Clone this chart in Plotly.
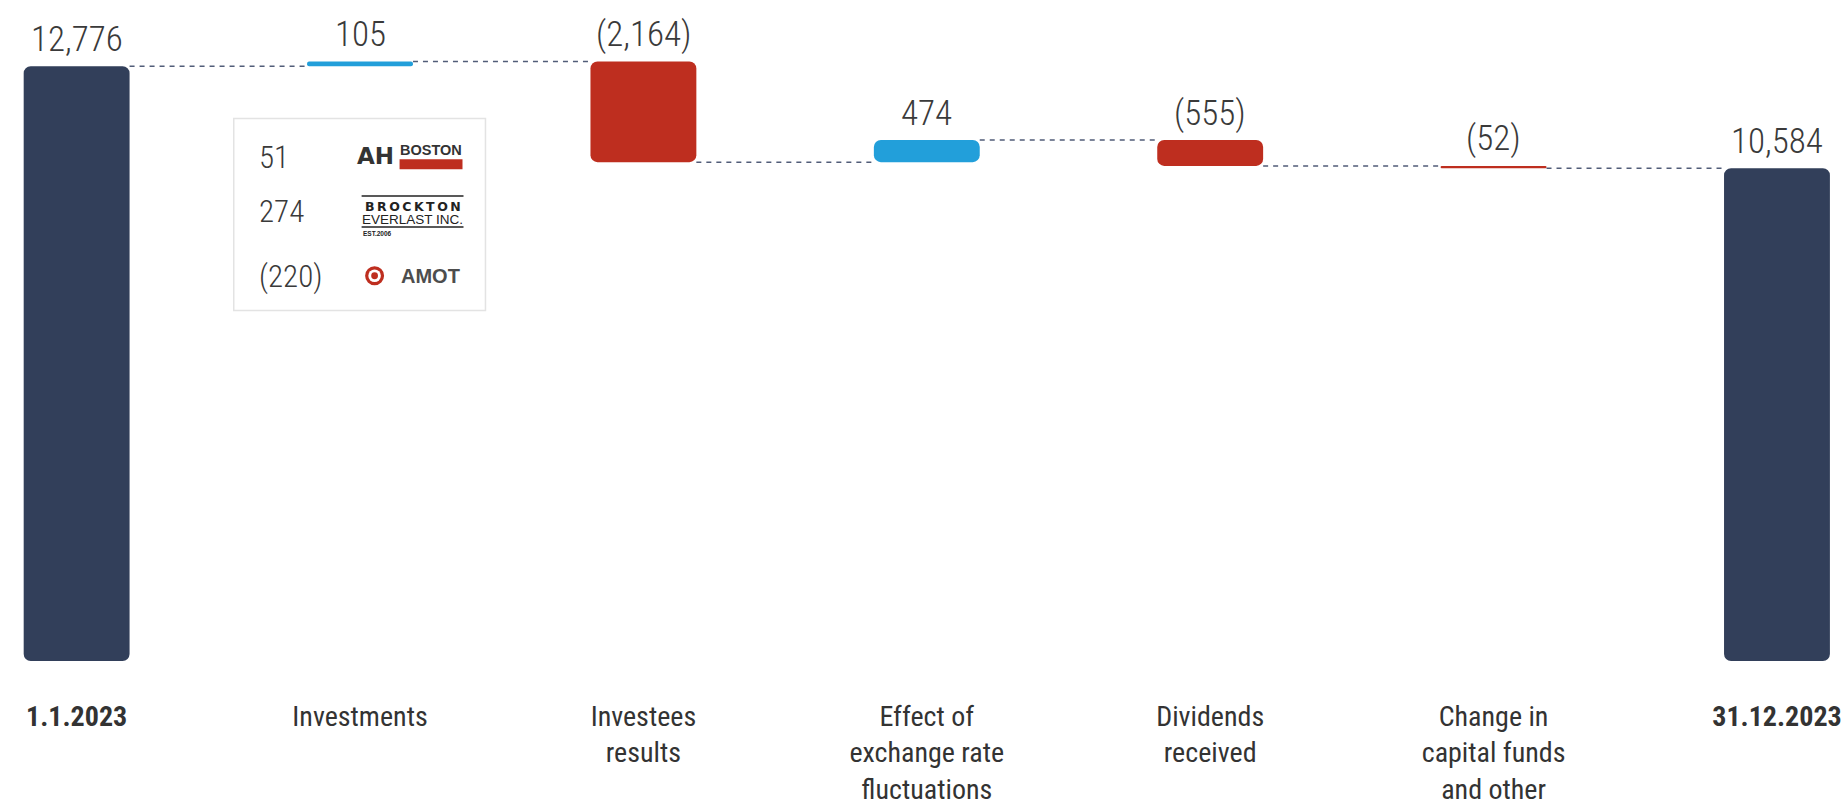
import plotly.graph_objects as go

# ---------------- data ----------------
categories = ["<b>1.1.2023</b>", "Investments", "Investees<br>results",
              "Effect of<br>exchange rate<br>fluctuations", "Dividends<br>received",
              "Change in<br>capital funds<br>and other", "<b>31.12.2023</b>"]
measures = ["total", "relative", "relative", "relative", "relative", "relative", "total"]
values = [12776, 105, -2164, 474, -555, -52, 10584]

inset_values = [51, 274, -220]

# ---------------- style ----------------
NAVY = "#323f5a"
BLUE = "#229fda"
RED = "#be2e1f"
CONN = "#515c78"
TXT = "#333333"
W, H = 1842, 806
MB = 142
PLOT_H = H - MB
Y_MAX = 14200
X_RANGE = [-0.2704, 6.2224]
BAR_W = 0.3736
FONT = "Roboto Condensed, Liberation Sans Narrow, sans-serif"
LOGO_FONT = "Liberation Sans, Arial, sans-serif"


def fmt(v):
    s = f"{abs(v):,}"
    return f"({s})" if v < 0 else s


# compute waterfall geometry from data
lows, highs, colors, levels = [], [], [], []
level = 0
for m, v in zip(measures, values):
    if m == "total":
        lo, hi = 0, v
        level = v
        c = NAVY
    else:
        prev = level
        level = prev + v
        lo, hi = min(prev, level), max(prev, level)
        c = BLUE if v > 0 else RED
    lows.append(lo)
    highs.append(hi)
    colors.append(c)
    levels.append(level)

xs = list(range(len(values)))
heights = [hi - lo for lo, hi in zip(lows, highs)]

fig = go.Figure()
fig.add_trace(go.Bar(x=xs, y=heights, base=lows, width=BAR_W,
                     marker=dict(color=colors, cornerradius=7, line=dict(width=0)),
                     hoverinfo="skip", showlegend=False))

# connectors
cx, cy = [], []
for i in range(len(values) - 1):
    cx += [xs[i] + BAR_W / 2, xs[i + 1] - BAR_W / 2, None]
    cy += [levels[i], levels[i], None]
fig.add_trace(go.Scatter(x=cx, y=cy, mode="lines",
                         line=dict(color=CONN, width=1.5, dash="5px,5px"),
                         hoverinfo="skip", showlegend=False))

# value labels
for x, hi, v in zip(xs, highs, values):
    fig.add_annotation(x=x, y=hi, text=fmt(v), showarrow=False, yanchor="middle",
                       yshift=27, font=dict(family=FONT, size=35, weight=300,
                                            color="#3a3a3a"))


# ---------------- inset box ----------------
def px(x):
    return x / W


def py(y):
    return (PLOT_H - y) / PLOT_H


shapes = []
shapes.append(dict(type="rect", xref="paper", yref="paper", x0=px(234), x1=px(486),
                   y0=py(312), y1=py(119), line=dict(color="#e3e3e3", width=1.5),
                   fillcolor="white", layer="above"))

# numbers
for yy, v in zip([158, 212, 278], inset_values):
    fig.add_annotation(xref="paper", yref="paper", x=px(257), y=py(yy), text=fmt(v),
                       showarrow=False, xanchor="left", yanchor="middle",
                       font=dict(family=FONT, size=31, weight=300, color="#3a3a3a"))

# AH BOSTON logo
fig.add_annotation(xref="paper", yref="paper", x=px(355), y=py(157), text="<b>AH</b>",
                   showarrow=False, xanchor="left", yanchor="middle",
                   font=dict(family="DejaVu Sans, sans-serif", size=23, weight=900,
                             color="#333333"))
fig.add_annotation(xref="paper", yref="paper", x=px(431.5), y=py(151), text="<b>BOSTON</b>",
                   showarrow=False, xanchor="center", yanchor="middle",
                   font=dict(family=LOGO_FONT, size=14.5, color="#333333"))
shapes.append(dict(type="rect", xref="paper", yref="paper", x0=px(400), x1=px(463),
                   y0=py(170), y1=py(160), line=dict(width=0), fillcolor=RED, layer="above"))

# BROCKTON logo
shapes.append(dict(type="line", xref="paper", yref="paper", x0=px(362), x1=px(464),
                   y0=py(197), y1=py(197), line=dict(color="#222222", width=1.5), layer="above"))
shapes.append(dict(type="line", xref="paper", yref="paper", x0=px(362), x1=px(464),
                   y0=py(228), y1=py(228), line=dict(color="#222222", width=1.5), layer="above"))
fig.add_annotation(xref="paper", yref="paper", x=px(413), y=py(207.5),
                   text="<b>B\u2009R\u2009O\u2009C\u2009K\u2009T\u2009O\u2009N</b>",
                   showarrow=False, xanchor="center", yanchor="middle",
                   font=dict(family="DejaVu Sans, sans-serif", size=12.5, color="#222222"))
fig.add_annotation(xref="paper", yref="paper", x=px(413), y=py(220),
                   text="EVERLAST INC.", showarrow=False, xanchor="center", yanchor="middle",
                   font=dict(family=LOGO_FONT, size=13.5, color="#222222"))
fig.add_annotation(xref="paper", yref="paper", x=px(361), y=py(234.5),
                   text="<b>EST.2006</b>", showarrow=False, xanchor="left", yanchor="middle",
                   font=dict(family=LOGO_FONT, size=6.5, color="#222222"))

# AMOT logo (target icon)
cxp, cyp = 375, 277
for r, col in [(9.5, RED), (6.3, "white"), (3.4, RED)]:
    shapes.append(dict(type="circle", xref="paper", yref="paper",
                       x0=px(cxp - r), x1=px(cxp + r), y0=py(cyp + r), y1=py(cyp - r),
                       line=dict(width=0), fillcolor=col, layer="above"))
fig.add_annotation(xref="paper", yref="paper", x=px(399), y=py(277), text="<b>AMOT</b>",
                   showarrow=False, xanchor="left", yanchor="middle",
                   font=dict(family=LOGO_FONT, size=20, color="#4d4d4d"))

fig.update_layout(
    width=W, height=H,
    margin=dict(l=0, r=0, t=0, b=MB, pad=0),
    paper_bgcolor="white", plot_bgcolor="white",
    barmode="overlay",
    shapes=shapes,
    showlegend=False,
    xaxis=dict(range=X_RANGE, tickmode="array", tickvals=xs, ticktext=categories,
               showgrid=False, zeroline=False, showline=False, ticks="",
               ticklabelstandoff=36, ticklabeloverflow="allow",
               tickfont=dict(family=FONT, size=28, color=TXT), fixedrange=True),
    yaxis=dict(range=[0, Y_MAX], visible=False, showgrid=False, zeroline=False,
               fixedrange=True),
)

fig.write_html("out.html")
